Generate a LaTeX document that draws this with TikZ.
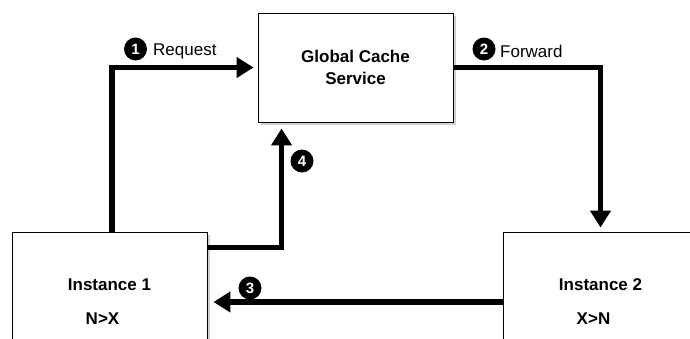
\documentclass[tikz,border=0pt]{standalone}
\usepackage{fontspec}
\setmainfont{Liberation Sans}
\usetikzlibrary{arrows.meta,shadows}

\begin{document}
\begin{tikzpicture}[x=1pt,y=-1pt,
  box/.style={draw,line width=0.9pt,fill=white,align=center,
    font=\fontsize{17}{22}\selectfont\bfseries,
    drop shadow={shadow xshift=3pt,shadow yshift=-3pt,fill=black!18,opacity=1}},
  flow/.style={line width=5.5pt,-{Triangle[length=17pt,width=20pt]},shorten >=4pt},
  stepno/.style={circle,fill=black,text=white,inner sep=0pt,minimum size=23pt,
    font=\fontsize{15}{15}\selectfont\bfseries},
  lbl/.style={anchor=west,inner sep=0pt,font=\fontsize{17}{17}\selectfont}]
\useasboundingbox (0,0) rectangle (690,338);
\clip (0,0) rectangle (690,338);

% the three boxes
\node[box,minimum width=195pt,minimum height=109pt] (gcs) at (355.5,67.5) {Global Cache\\Service};
\node[box,minimum width=195pt,minimum height=140pt] (inst1) at (109.5,302) {Instance 1\\[12pt]N>X\hspace*{14pt}};
\node[box,minimum width=195pt,minimum height=140pt] (inst2) at (600.5,302) {Instance 2\\[12pt]X>N\hspace*{14pt}};

% messages
\draw[flow] ([xshift=2.5pt]inst1.north) |- (gcs.west);
\draw[flow] (gcs.east) -| (inst2.north);
\draw[flow,shorten >=6pt] (inst2.west) -- (inst1.east);
\draw[flow,shorten >=6pt] ([yshift=-16pt]inst1.north east) -| ([xshift=24pt]gcs.south west);

% step numbers
\node[stepno] (s1) at (135.5,49) {1};
\node[lbl] (req) at (153,51) {Request};
\node[stepno] (s2) at (484,49) {2};
\node[lbl] (fwd) at (500,51) {Forward};
\node[stepno] (s3) at (250,288) {3};
\node[stepno] (s4) at (302,161) {4};

\end{tikzpicture}
\end{document}
